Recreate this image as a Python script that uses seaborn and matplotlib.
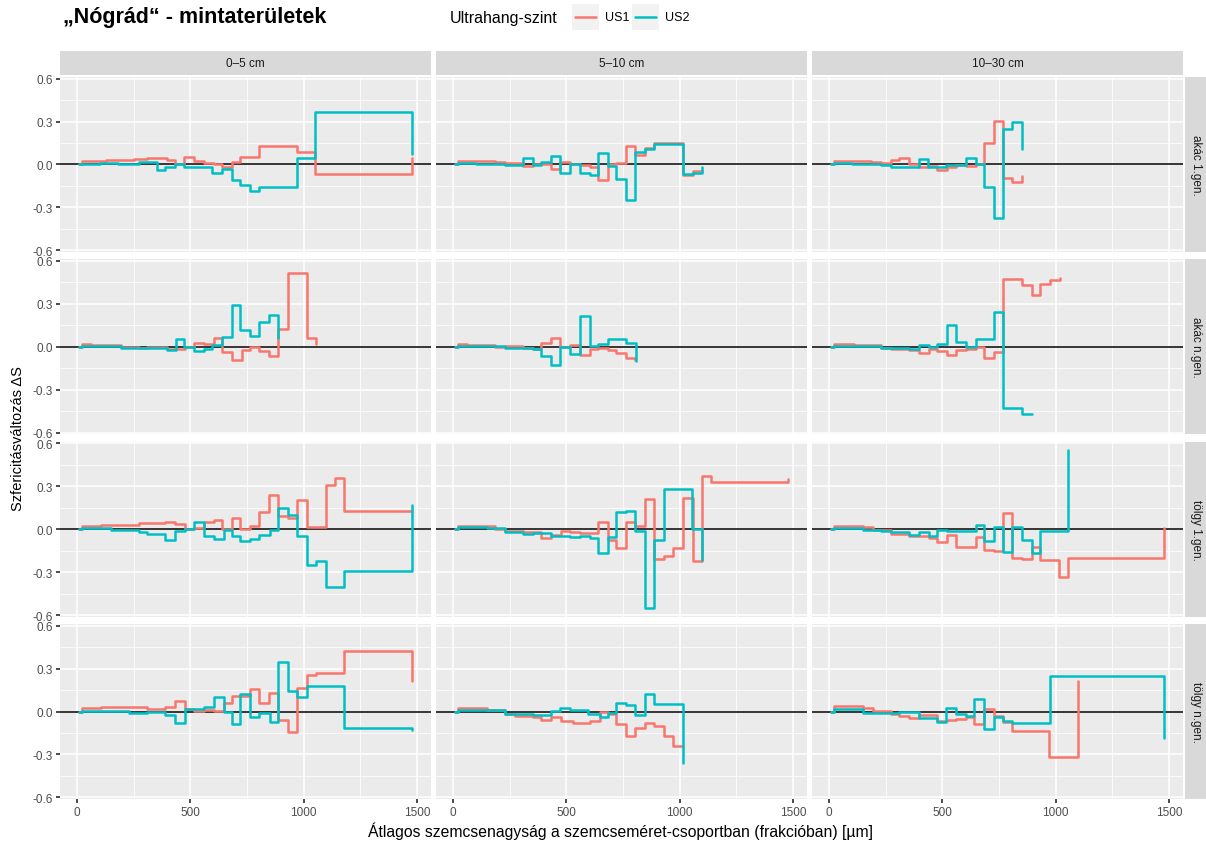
import numpy as np
import pandas as pd
import seaborn as sns
import matplotlib.pyplot as plt
from matplotlib.patches import Rectangle
from matplotlib.lines import Line2D

depths = ['0–5 cm', '5–10 cm', '10–30 cm']
stands = ['akác 1.gen.', 'akác n.gen.', 'tölgy 1.gen.', 'tölgy n.gen.']
levels = ['US1', 'US2']
colors = ['#F8766D', '#00BFC4']

# akác 1.gen.
a1_05_us1_x = [9, 23, 70, 130, 190, 250, 309, 397, 434, 471, 515, 559, 603, 639, 683, 720, 805, 969, 1050, 1479]
a1_05_us1_y = [0.0, 0.022, 0.025, 0.03, 0.033, 0.038, 0.045, 0.03, 0.002, 0.05, 0.026, 0.007, 0.0, -0.016, 0.014, 0.053, 0.128, 0.084, -0.063, 0.042]
a1_05_us2_x = [9, 23, 100, 180, 273, 353, 390, 434, 471, 515, 595, 639, 683, 720, 764, 805, 969, 1050, 1479]
a1_05_us2_y = [0.0, 0.005, 0.008, 0.005, 0.02, -0.04, -0.015, 0.0, -0.02, -0.015, -0.056, -0.03, -0.11, -0.145, -0.186, -0.156, 0.042, 0.367, 0.072]

a1_510_us1_x = [9, 23, 100, 185, 229, 309, 353, 434, 474, 515, 559, 603, 639, 683, 720, 764, 805, 845, 889, 1013, 1057, 1097]
a1_510_us1_y = [0.0, 0.025, 0.022, 0.018, 0.01, -0.012, 0.005, -0.028, 0.019, 0.002, -0.005, -0.016, -0.105, 0.002, 0.007, 0.13, 0.065, 0.112, 0.147, -0.07, -0.047, -0.047]
a1_510_us2_x = [9, 23, 100, 229, 309, 353, 390, 434, 474, 515, 559, 603, 639, 683, 720, 764, 805, 845, 889, 1013, 1057, 1097]
a1_510_us2_y = [0.0, 0.008, 0.005, -0.005, 0.042, -0.005, 0.019, 0.06, -0.056, 0.002, -0.056, -0.074, 0.077, -0.012, -0.098, -0.249, 0.088, 0.107, 0.14, -0.063, -0.056, -0.016]

a1_1030_us1_x = [9, 23, 100, 185, 229, 273, 309, 353, 397, 437, 478, 522, 559, 603, 647, 683, 727, 767, 808, 852]
a1_1030_us1_y = [0.0, 0.025, 0.022, 0.018, 0.01, 0.03, 0.047, 0.002, -0.02, -0.012, -0.035, -0.016, -0.005, -0.012, 0.002, 0.15, 0.305, -0.093, -0.12, -0.08]
a1_1030_us2_x = [9, 23, 100, 229, 273, 397, 437, 515, 603, 647, 683, 727, 767, 808, 852]
a1_1030_us2_y = [0.0, 0.008, 0.005, -0.005, -0.02, 0.037, -0.015, -0.005, 0.042, 0.005, -0.156, -0.377, 0.25, 0.298, 0.105]

# akác n.gen.
an_05_us1_x = [9, 23, 60, 192, 273, 309, 397, 437, 478, 515, 559, 603, 639, 683, 727, 764, 805, 845, 889, 933, 1013, 1054]
an_05_us1_y = [0.0, 0.022, 0.012, 0.002, -0.005, 0.002, -0.012, -0.016, 0.002, 0.026, 0.023, 0.06, -0.035, -0.093, -0.02, 0.002, -0.028, -0.067, 0.128, 0.519, 0.06, 0.019]
an_05_us2_x = [9, 23, 192, 273, 397, 437, 474, 515, 559, 595, 639, 683, 720, 764, 805, 845, 889]
an_05_us2_y = [0.0, 0.005, -0.01, -0.005, -0.02, 0.053, 0.002, -0.028, -0.012, 0.012, 0.07, 0.29, 0.119, 0.077, 0.17, 0.22, 0.065]

an_510_us1_x = [9, 23, 60, 185, 229, 309, 353, 390, 434, 474, 515, 559, 603, 639, 683, 720, 764, 805]
an_510_us1_y = [0.0, 0.022, 0.014, 0.002, 0.007, -0.005, -0.012, 0.03, 0.065, 0.002, 0.012, -0.058, -0.016, -0.005, -0.02, -0.04, -0.08, -0.09]
an_510_us2_x = [9, 23, 229, 309, 353, 390, 434, 474, 515, 559, 603, 639, 683, 764, 808]
an_510_us2_y = [0.0, 0.005, -0.01, -0.005, -0.016, -0.063, -0.128, 0.002, -0.047, 0.212, 0.007, 0.023, 0.053, 0.026, -0.098]

an_1030_us1_x = [9, 23, 111, 229, 273, 353, 397, 441, 478, 522, 562, 603, 647, 683, 727, 767, 852, 896, 933, 977, 1021]
an_1030_us1_y = [0.0, 0.022, 0.014, -0.005, -0.012, -0.02, -0.04, -0.012, -0.03, -0.058, -0.02, -0.016, 0.002, -0.08, -0.035, 0.477, 0.43, 0.36, 0.437, 0.467, 0.484]
an_1030_us2_x = [9, 23, 229, 353, 397, 441, 478, 522, 562, 603, 647, 727, 767, 852, 896]
an_1030_us2_y = [0.0, 0.005, -0.007, -0.016, 0.012, 0.002, 0.019, 0.151, 0.037, 0.002, 0.053, 0.244, -0.43, -0.47, -0.47]

# tölgy 1.gen.
t1_05_us1_x = [9, 23, 104, 192, 273, 353, 390, 434, 478, 515, 559, 603, 639, 683, 720, 764, 805, 845, 889, 933, 969, 1013, 1097, 1138, 1177, 1479]
t1_05_us1_y = [0.0, 0.025, 0.028, 0.03, 0.04, 0.045, 0.053, 0.037, 0.002, 0.01, 0.053, 0.065, 0.002, 0.077, 0.002, 0.019, 0.119, 0.24, 0.095, 0.077, 0.205, 0.012, 0.31, 0.36, 0.128, 0.128]
t1_05_us2_x = [9, 23, 148, 273, 309, 390, 434, 478, 515, 559, 603, 647, 683, 720, 764, 805, 852, 889, 933, 969, 1013, 1054, 1097, 1177, 1479]
t1_05_us2_y = [0.0, 0.005, -0.005, -0.02, -0.033, -0.074, -0.016, 0.002, 0.047, -0.05, -0.07, -0.005, -0.047, -0.08, -0.07, -0.04, -0.005, 0.151, 0.1, -0.05, -0.249, -0.22, -0.401, -0.295, 0.17]

t1_510_us1_x = [9, 23, 104, 185, 229, 309, 390, 434, 478, 515, 559, 639, 683, 720, 764, 805, 845, 889, 933, 969, 1013, 1057, 1097, 1138, 1479]
t1_510_us1_y = [0.0, 0.025, 0.019, 0.002, -0.012, -0.02, -0.063, -0.044, -0.012, -0.02, -0.028, 0.053, -0.074, -0.133, 0.053, 0.019, 0.21, -0.207, -0.186, -0.133, 0.22, -0.219, 0.372, 0.326, 0.35]
t1_510_us2_x = [9, 23, 148, 229, 309, 353, 434, 515, 559, 603, 639, 683, 720, 764, 805, 845, 889, 933, 1054, 1097]
t1_510_us2_y = [0.0, 0.012, 0.005, -0.02, -0.035, -0.028, -0.047, -0.058, -0.051, -0.063, -0.167, -0.056, 0.123, 0.128, -0.012, -0.551, -0.074, 0.279, 0.0, -0.214]

t1_1030_us1_x = [9, 23, 148, 192, 273, 353, 441, 478, 522, 562, 647, 683, 727, 767, 808, 852, 896, 933, 1013, 1054, 1479]
t1_1030_us1_y = [0.0, 0.025, 0.014, -0.005, -0.035, -0.047, -0.063, -0.09, -0.04, -0.128, -0.058, -0.144, -0.149, 0.116, -0.198, -0.207, -0.128, -0.214, -0.337, -0.202, 0.01]
t1_1030_us2_x = [9, 23, 148, 229, 273, 353, 397, 441, 478, 522, 647, 683, 727, 767, 808, 852, 896, 933, 1054]
t1_1030_us2_y = [0.0, 0.007, -0.005, -0.012, -0.02, -0.044, -0.02, -0.047, -0.005, -0.012, 0.03, -0.081, 0.012, -0.156, 0.012, -0.077, -0.167, -0.012, 0.553]

# tölgy n.gen.
tn_05_us1_x = [9, 23, 104, 192, 309, 390, 434, 478, 515, 559, 603, 647, 683, 764, 805, 845, 889, 933, 972, 1013, 1054, 1177, 1479]
tn_05_us1_y = [0.0, 0.022, 0.03, 0.033, 0.016, 0.03, 0.072, 0.016, 0.002, 0.01, 0.005, 0.06, 0.107, 0.156, 0.061, 0.128, -0.058, -0.144, 0.165, 0.258, 0.272, 0.421, 0.216]
tn_05_us2_x = [9, 23, 229, 309, 390, 434, 478, 559, 603, 647, 683, 720, 764, 805, 852, 889, 933, 972, 1013, 1177, 1479]
tn_05_us2_y = [0.0, 0.005, -0.007, 0.0, -0.023, -0.077, 0.016, 0.033, 0.102, 0.0, -0.088, 0.12, -0.037, -0.007, -0.072, 0.344, 0.146, 0.102, 0.179, -0.112, -0.128]

tn_510_us1_x = [9, 23, 148, 229, 273, 353, 390, 434, 478, 529, 603, 647, 683, 720, 764, 805, 845, 889, 933, 972, 1013]
tn_510_us1_y = [0.0, 0.025, 0.01, -0.019, -0.03, -0.037, -0.056, -0.04, -0.067, -0.079, -0.063, -0.005, -0.014, -0.086, -0.174, -0.114, -0.079, -0.098, -0.172, -0.242, -0.245]
tn_510_us2_x = [9, 23, 229, 353, 434, 471, 515, 595, 647, 683, 720, 764, 805, 845, 889, 1013]
tn_510_us2_y = [0.0, 0.01, -0.014, -0.023, 0.002, 0.026, 0.012, -0.016, -0.037, -0.007, 0.06, 0.042, -0.026, 0.119, 0.049, -0.36]

tn_1030_us1_x = [9, 23, 148, 192, 273, 309, 353, 397, 478, 522, 559, 603, 639, 683, 727, 767, 808, 972, 1097]
tn_1030_us1_y = [0.0, 0.035, 0.023, 0.002, -0.016, -0.028, -0.044, -0.021, -0.063, -0.058, -0.051, -0.04, -0.09, 0.019, -0.028, -0.074, -0.133, -0.319, 0.212]
tn_1030_us2_x = [9, 23, 148, 309, 397, 478, 518, 562, 603, 639, 683, 727, 767, 808, 977, 1479]
tn_1030_us2_y = [0.0, 0.015, -0.007, -0.005, -0.044, -0.07, 0.023, -0.014, -0.03, 0.088, -0.121, -0.04, -0.068, -0.079, 0.251, -0.184]

series = [
    ('akác 1.gen.', '0–5 cm', 'US1', a1_05_us1_x, a1_05_us1_y),
    ('akác 1.gen.', '0–5 cm', 'US2', a1_05_us2_x, a1_05_us2_y),
    ('akác 1.gen.', '5–10 cm', 'US1', a1_510_us1_x, a1_510_us1_y),
    ('akác 1.gen.', '5–10 cm', 'US2', a1_510_us2_x, a1_510_us2_y),
    ('akác 1.gen.', '10–30 cm', 'US1', a1_1030_us1_x, a1_1030_us1_y),
    ('akác 1.gen.', '10–30 cm', 'US2', a1_1030_us2_x, a1_1030_us2_y),
    ('akác n.gen.', '0–5 cm', 'US1', an_05_us1_x, an_05_us1_y),
    ('akác n.gen.', '0–5 cm', 'US2', an_05_us2_x, an_05_us2_y),
    ('akác n.gen.', '5–10 cm', 'US1', an_510_us1_x, an_510_us1_y),
    ('akác n.gen.', '5–10 cm', 'US2', an_510_us2_x, an_510_us2_y),
    ('akác n.gen.', '10–30 cm', 'US1', an_1030_us1_x, an_1030_us1_y),
    ('akác n.gen.', '10–30 cm', 'US2', an_1030_us2_x, an_1030_us2_y),
    ('tölgy 1.gen.', '0–5 cm', 'US1', t1_05_us1_x, t1_05_us1_y),
    ('tölgy 1.gen.', '0–5 cm', 'US2', t1_05_us2_x, t1_05_us2_y),
    ('tölgy 1.gen.', '5–10 cm', 'US1', t1_510_us1_x, t1_510_us1_y),
    ('tölgy 1.gen.', '5–10 cm', 'US2', t1_510_us2_x, t1_510_us2_y),
    ('tölgy 1.gen.', '10–30 cm', 'US1', t1_1030_us1_x, t1_1030_us1_y),
    ('tölgy 1.gen.', '10–30 cm', 'US2', t1_1030_us2_x, t1_1030_us2_y),
    ('tölgy n.gen.', '0–5 cm', 'US1', tn_05_us1_x, tn_05_us1_y),
    ('tölgy n.gen.', '0–5 cm', 'US2', tn_05_us2_x, tn_05_us2_y),
    ('tölgy n.gen.', '5–10 cm', 'US1', tn_510_us1_x, tn_510_us1_y),
    ('tölgy n.gen.', '5–10 cm', 'US2', tn_510_us2_x, tn_510_us2_y),
    ('tölgy n.gen.', '10–30 cm', 'US1', tn_1030_us1_x, tn_1030_us1_y),
    ('tölgy n.gen.', '10–30 cm', 'US2', tn_1030_us2_x, tn_1030_us2_y),
]

rows = []
for stand, depth, lev, xs, ys in series:
    for xv, yv in zip(xs, ys):
        rows.append({'hely': stand, 'melyseg': depth, 'szint': lev, 'x': xv, 'dS': yv})
df = pd.DataFrame(rows)

sns.set_theme(style='darkgrid')
plt.rcParams['font.family'] = ['Liberation Sans', 'DejaVu Sans']

g = sns.relplot(
    data=df, x='x', y='dS', hue='szint', row='hely', col='melyseg',
    kind='line', estimator=None, drawstyle='steps-post',
    hue_order=levels, palette=colors, row_order=stands, col_order=depths,
    legend=False, linewidth=1.8, height=2, aspect=2,
)
fig = g.figure
fig.set_size_inches(12.06, 8.45)
fig.subplots_adjust(left=60 / 1206, right=1183 / 1206, top=1 - 78 / 845,
                    bottom=1 - 800 / 845, wspace=0.0135, hspace=0.042)
g.set_titles('')
g.set_axis_labels('', '')

nrow, ncol = g.axes.shape
for i in range(nrow):
    for j in range(ncol):
        ax = g.axes[i, j]
        ax.set_facecolor('#EBEBEB')
        ax.set_xlim(-75, 1562)
        ax.set_ylim(-0.611, 0.611)
        ax.set_xticks([0, 500, 1000, 1500])
        ax.set_xticks([250, 750, 1250], minor=True)
        ax.set_yticks([-0.6, -0.3, 0.0, 0.3, 0.6])
        ax.set_yticks([-0.45, -0.15, 0.15, 0.45], minor=True)
        ax.grid(which='major', color='white', linewidth=1.1)
        ax.grid(which='minor', color='white', linewidth=0.55)
        ax.set_axisbelow(True)
        for s in ax.spines.values():
            s.set_visible(False)
        ax.axhline(0, color='black', linewidth=1.1, zorder=1.5)
        ax.tick_params(which='minor', length=0)
        ax.tick_params(axis='x', which='major', length=3 if i == nrow - 1 else 0,
                       color='#333333', labelsize=8.5, labelcolor='#4D4D4D', pad=2,
                       bottom=(i == nrow - 1), labelbottom=(i == nrow - 1))
        ax.tick_params(axis='y', which='major', length=3 if j == 0 else 0,
                       color='#333333', labelsize=8.5, labelcolor='#4D4D4D', pad=2,
                       left=(j == 0), labelleft=(j == 0))
        if j == 0:
            ax.set_yticklabels(['-0.6', '-0.3', '0.0', '0.3', '0.6'])
        # top strips
        if i == 0:
            ax.add_patch(Rectangle((0, 1.011), 1, 0.137, transform=ax.transAxes,
                                   facecolor='#D9D9D9', edgecolor='none', clip_on=False))
            ax.text(0.5, 1.0795, depths[j], transform=ax.transAxes, ha='center',
                    va='center', fontsize=8.5, color='#1A1A1A')
        # right strips
        if j == ncol - 1:
            ax.add_patch(Rectangle((1.005, 0), 0.058, 1, transform=ax.transAxes,
                                   facecolor='#D9D9D9', edgecolor='none', clip_on=False))
            ax.text(1.034, 0.5, stands[i], transform=ax.transAxes, ha='center',
                    va='center', rotation=-90, fontsize=8.5, color='#1A1A1A')

fig.text(63 / 1206, 1 - 18 / 845, '„Nógrád“ - mintaterületek', fontsize=15.5,
         fontweight='bold', ha='left', va='center', color='black')
fig.text(621 / 1206, 1 - 831 / 845,
         'Átlagos szemcsenagyság a szemcseméret-csoportban (frakcióban) [µm]',
         ha='center', va='center', fontsize=11.3, color='black')
fig.text(18 / 1206, 1 - 439 / 845, 'Szfericitásváltozás ΔS', rotation=90,
         ha='center', va='center', fontsize=10.5, color='black')

# legend
fig.text(450 / 1206, 1 - 18 / 845, 'Ultrahang-szint', ha='left', va='center',
         fontsize=11.5, color='black')
for k, (lab, col) in enumerate(zip(levels, colors)):
    x0 = 572 + k * 60
    fig.add_artist(Rectangle((x0 / 1206, 1 - 31 / 845), 27 / 1206, 26 / 845,
                             transform=fig.transFigure, facecolor='#F2F2F2',
                             edgecolor='none'))
    fig.add_artist(Line2D([(x0 + 3) / 1206, (x0 + 24) / 1206],
                          [1 - 18 / 845, 1 - 18 / 845], transform=fig.transFigure,
                          color=col, linewidth=1.8))
    fig.text((x0 + 33) / 1206, 1 - 18 / 845, lab, ha='left', va='center',
             fontsize=9, color='black')

fig.savefig('out.png', dpi=100)
